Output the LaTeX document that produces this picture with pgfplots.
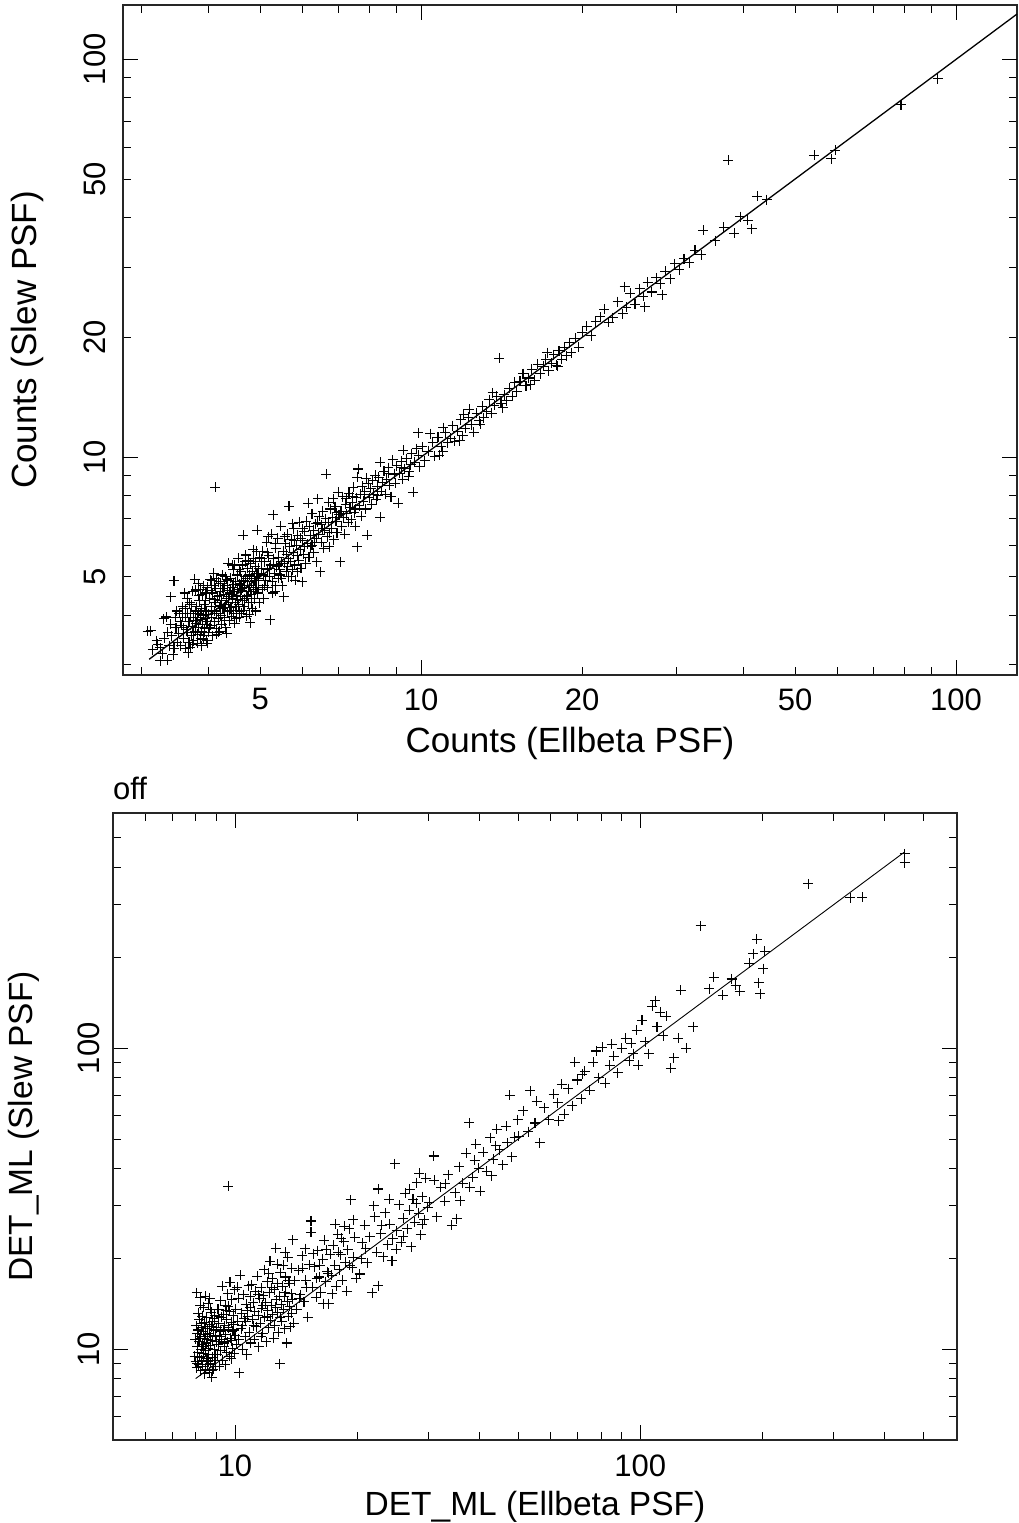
\documentclass[border=0pt]{standalone}
\usepackage{fontspec}
\setmainfont{Liberation Sans}
\usepackage{pgfplots}
\pgfplotsset{compat=1.18}
\newcommand{\tickfont}{\fontsize{31}{37}\selectfont}
\newcommand{\titlefont}{\fontsize{35}{42}\selectfont}
\newcommand{\titlefontb}{\fontsize{33.5}{40}\selectfont}

\begin{document}
\begin{tikzpicture}
\useasboundingbox (0pt,0pt) rectangle (1018pt,-1523pt);

% ---------------- top panel: counts ----------------
\begin{axis}[
  xmode=log, ymode=log,
  scale only axis,
  anchor=north west,
  at={(123pt,-5pt)},
  width=894pt, height=670pt,
  xmin=2.77, xmax=130, ymin=2.83, ymax=137,
  axis line style={black!85, line width=1.2pt},
  tick align=inside,
  every tick/.style={black, line width=0.9pt},
  major tick length=8pt, minor tick length=8pt,
  xtick={5,10,20,50,100}, xticklabels={5,10,20,50,100},
  ytick={5,10,20,50,100}, yticklabels={5,10,20,50,100},
  minor xtick={3,4,6,7,8,9,30,40,60,70,80,90},
  minor ytick={3,4,6,7,8,9,30,40,60,70,80,90},
  extra x ticks={10,100}, extra x tick labels={},
  extra y ticks={10,100}, extra y tick labels={},
  extra tick style={major tick length=15pt},
  tick label style={font=\tickfont},
  xticklabel shift=10pt,
  yticklabel style={rotate=90, anchor=south},
  yticklabel shift=14pt,
  xlabel={Counts (Ellbeta PSF)},
  ylabel={Counts (Slew PSF)},
  xlabel style={font=\titlefont, at={(axis description cs:0.5,-0.1164)}, anchor=base},
  ylabel style={font=\titlefont, at={(axis description cs:-0.0968,0.5)}, rotate=0, anchor=base},
  clip=false,
]
\addplot[only marks, mark=+, mark size=5pt, black, mark options={line width=1.05pt}] table {
3.08 3.65
3.12 3.66
3.15 3.28
3.25 3.07
3.35 3.08
3.25 3.31
3.30 3.92
3.34 3.96
3.40 4.45
3.45 4.88
3.20 3.45
3.28 3.20
3.38 3.35
3.42 3.55
3.45 3.30
3.48 3.72
3.36 3.62
3.22 3.38
3.47 3.95
3.50 3.42
3.44 3.18
3.31 3.50
3.49 4.10
3.40 3.80
3.52 3.60
3.55 3.35
3.55 3.85
3.58 4.20
3.60 3.50
3.60 3.72
3.62 3.95
3.63 3.30
3.65 4.40
3.66 3.62
3.68 3.85
3.70 3.31
3.70 4.05
3.72 3.55
3.73 3.75
3.74 4.60
3.75 3.45
3.76 3.95
3.77 4.93
3.78 3.65
3.79 4.63
3.80 3.82
3.80 4.20
3.81 3.40
3.82 3.58
3.83 4.05
3.84 3.72
3.85 4.35
3.86 3.90
3.87 3.50
3.88 4.15
3.89 3.65
3.90 3.80
3.90 4.50
3.91 4.00
3.92 3.55
3.93 4.25
3.94 3.70
3.95 3.92
3.96 4.10
3.97 3.45
3.98 3.40
3.98 4.70
3.99 3.85
3.62 4.15
3.68 3.42
3.72 4.25
3.76 3.62
3.84 4.48
3.88 3.35
3.93 3.62
3.57 3.78
3.66 4.05
3.78 3.88
3.86 4.65
3.95 4.35
3.53 4.05
3.64 3.68
3.71 3.95
3.82 3.95
3.92 4.75
3.97 3.80
3.58 3.95
3.61 4.55
3.67 3.22
3.69 4.30
3.74 3.38
3.79 4.10
3.83 4.80
3.87 4.02
3.91 3.48
3.96 4.55
4.00 4.02
4.01 3.62
4.02 4.40
4.03 4.91
4.04 3.78
4.05 4.20
4.06 3.95
4.07 4.55
4.08 3.55
4.09 5.10
4.10 4.10
4.11 3.85
4.12 8.39
4.12 4.30
4.13 4.68
4.14 3.70
4.15 4.05
4.16 4.45
4.17 3.92
4.18 4.85
4.19 4.20
4.20 3.65
4.21 4.60
4.22 4.00
4.23 4.35
4.24 3.80
4.25 5.05
4.26 4.15
4.27 4.52
4.28 3.95
4.29 4.75
4.30 4.25
4.31 3.72
4.32 4.40
4.33 3.60
4.34 4.62
4.35 4.08
4.36 5.40
4.37 4.30
4.38 3.88
4.39 4.55
4.40 4.95
4.41 4.18
4.42 3.98
4.43 4.70
4.44 4.40
4.45 5.20
4.46 4.05
4.47 4.58
4.48 3.82
4.49 4.30
4.50 4.85
4.51 4.48
4.52 4.12
4.53 5.05
4.54 4.65
4.55 5.56
4.56 4.25
4.57 3.95
4.58 4.80
4.59 4.45
4.60 5.15
4.61 4.05
4.62 4.62
4.63 4.35
4.64 5.35
4.65 6.36
4.66 4.90
4.67 4.20
4.68 4.70
4.69 5.00
4.70 5.67
4.71 4.45
4.72 3.98
4.73 4.85
4.74 5.25
4.75 4.60
4.76 4.30
4.77 5.05
4.78 4.75
4.79 3.83
4.80 5.40
4.81 4.50
4.82 4.95
4.83 4.15
4.84 5.15
4.85 4.70
4.86 5.55
4.87 4.40
4.88 4.88
4.89 5.30
4.90 4.10
4.91 4.65
4.92 5.08
4.93 5.80
4.94 6.55
4.95 4.55
4.96 4.95
4.97 5.25
4.98 4.30
4.99 5.60
4.05 4.62
4.15 3.58
4.22 4.82
4.28 4.18
4.35 4.88
4.42 4.50
4.48 5.35
4.58 4.10
4.62 4.90
4.68 4.40
4.75 5.50
4.82 4.30
4.88 5.00
4.95 5.10
4.10 4.75
4.20 4.48
4.30 5.00
4.40 4.62
4.50 4.20
4.60 4.75
4.70 4.95
4.80 4.58
4.90 5.45
4.02 3.72
4.06 4.88
4.11 4.38
4.14 4.95
4.18 3.62
4.21 4.22
4.26 4.68
4.29 3.88
4.33 4.92
4.36 4.45
4.39 4.12
4.43 5.35
4.46 4.78
4.51 3.92
4.54 4.38
4.57 5.22
4.63 4.68
4.66 4.12
4.69 5.45
4.73 4.48
4.77 4.02
4.81 4.85
4.85 5.85
4.91 4.88
4.97 4.70
5.02 5.25
5.04 4.65
5.05 5.80
5.07 5.05
5.08 4.40
5.10 5.45
5.12 4.90
5.14 6.10
5.15 5.20
5.17 4.70
5.19 5.65
5.20 5.00
5.22 3.90
5.23 5.35
5.25 6.40
5.27 4.85
5.29 7.15
5.30 5.55
5.32 5.10
5.34 4.60
5.35 5.90
5.37 5.30
5.39 6.25
5.40 4.95
5.42 5.60
5.44 5.20
5.46 6.70
5.48 5.45
5.50 4.75
5.52 5.80
5.53 4.45
5.55 5.40
5.57 6.05
5.59 5.15
5.60 5.70
5.62 6.40
5.64 5.00
5.66 7.53
5.68 5.95
5.70 5.45
5.72 6.20
5.74 5.20
5.76 5.75
5.78 6.60
5.80 5.35
5.82 4.90
5.84 6.00
5.86 5.65
5.88 6.35
5.90 5.50
5.92 6.85
5.94 5.85
5.96 5.25
5.99 4.86
5.03 5.55
5.09 4.75
5.16 5.75
5.21 5.25
5.28 4.55
5.33 6.05
5.41 5.35
5.47 4.95
5.56 6.30
5.63 5.30
5.71 5.00
5.79 6.15
5.87 5.15
6.01 6.15
6.03 5.70
6.05 6.50
6.08 5.40
6.10 6.90
6.12 6.05
6.15 7.66
6.17 5.60
6.20 6.35
6.22 5.95
6.25 7.20
6.28 6.55
6.30 5.75
6.33 6.10
6.35 6.80
6.38 5.45
6.41 7.85
6.44 6.40
6.47 5.14
6.50 6.75
6.52 6.10
6.55 7.30
6.58 5.90
6.60 6.55
6.63 7.00
6.65 9.06
6.68 6.30
6.70 6.85
6.73 5.95
6.76 7.40
6.80 6.60
6.83 7.05
6.86 6.20
6.90 7.50
6.93 6.90
6.96 6.45
7.00 8.15
7.02 7.15
5.18 6.30
5.45 5.05
5.75 6.80
6.00 6.60
6.25 6.00
6.45 7.10
6.72 7.70
5.35 4.75
5.65 5.55
5.95 6.25
6.40 6.85
6.85 7.85
6.04 5.95
6.18 6.70
6.36 6.25
6.54 6.60
6.75 6.45
6.95 7.25
7.06 5.45
7.08 7.30
7.10 6.70
7.13 7.95
7.16 7.05
7.20 6.40
7.23 7.60
7.26 7.20
7.30 6.85
7.33 8.10
7.36 7.45
7.40 6.95
7.43 7.70
7.46 8.40
7.50 7.25
7.53 6.70
7.56 7.90
7.60 8.90
7.60 5.94
7.63 9.33
7.66 7.55
7.70 8.05
7.73 7.10
7.76 8.45
7.80 7.75
7.84 8.20
7.88 7.40
7.93 6.36
7.96 8.60
8.00 7.90
8.04 8.35
8.08 7.60
8.12 8.75
8.16 8.05
8.20 9.00
8.24 7.80
8.28 8.45
8.33 8.90
8.38 9.70
8.38 7.06
8.42 8.20
8.47 8.65
8.52 9.20
8.57 8.05
8.62 8.80
8.67 9.40
8.72 8.50
8.78 7.95
8.85 9.83
8.90 9.05
8.95 8.60
9.00 9.50
9.06 7.65
9.12 9.10
9.18 9.75
9.24 8.80
9.26 10.40
9.32 9.35
9.40 9.90
9.47 8.95
9.55 9.55
9.60 10.20
9.66 8.15
9.72 9.70
9.80 10.50
9.87 11.50
9.93 9.45
7.45 7.95
7.90 8.85
8.30 8.00
8.70 9.10
9.20 9.40
9.50 9.20
9.90 10.10
7.25 7.85
7.55 7.40
7.85 8.05
10.05 10.60
10.15 9.80
10.30 10.35
10.50 10.90
10.60 10.05
10.75 11.20
10.90 10.60
10.98 10.30
11.10 11.50
11.20 10.85
11.35 11.15
11.45 12.00
11.55 10.95
11.70 11.60
11.85 12.40
11.95 11.30
12.10 11.80
12.25 12.60
12.40 12.05
12.55 11.55
12.70 12.90
12.85 12.35
13.00 13.40
13.10 12.55
13.25 13.00
13.40 13.95
13.55 12.90
13.70 13.50
13.85 14.20
14.00 17.70
14.10 13.65
14.30 14.35
14.45 13.85
14.60 14.90
14.80 14.20
14.95 15.40
10.40 11.45
11.00 11.85
11.80 11.00
12.30 13.20
12.90 12.10
13.60 14.50
14.20 13.30
10.80 10.10
12.00 12.80
15.10 14.60
15.30 15.50
15.50 16.20
15.70 15.10
15.90 15.80
16.10 16.60
16.30 15.60
16.50 17.10
16.70 16.20
16.90 16.90
17.10 17.60
17.30 16.50
17.50 17.20
17.70 18.10
17.90 17.00
18.10 18.50
18.30 17.60
18.50 18.90
18.70 18.00
18.90 19.40
19.10 18.30
19.40 19.90
19.70 18.90
20.00 20.60
20.40 21.30
20.80 20.20
21.20 21.90
21.60 22.50
16.00 15.20
17.20 18.30
18.00 16.90
22.00 23.50
22.40 21.80
22.80 22.40
23.30 24.60
23.80 22.90
24.20 23.80
24.60 25.80
25.10 24.20
25.60 26.50
26.00 25.40
26.50 27.50
27.00 26.00
27.50 28.20
28.00 27.30
28.60 29.30
29.20 28.10
29.80 30.60
30.40 29.60
31.00 31.50
31.70 30.80
32.50 33.10
33.40 32.30
24.00 26.80
26.20 23.90
28.20 25.60
33.70 37.20
35.50 35.00
36.80 37.80
37.50 55.70
38.50 36.50
39.50 40.20
40.80 39.40
41.50 37.50
42.50 45.30
44.30 44.40
54.30 57.40
58.40 56.20
59.40 59.00
78.90 76.90
92.40 89.30
};
\addplot[black, line width=1.3pt] coordinates {(3.1,3.1) (130,130)};
\end{axis}

% ---------------- bottom panel: detection likelihood ----------------
\begin{axis}[
  xmode=log, ymode=log,
  scale only axis,
  anchor=north west,
  at={(113pt,-813pt)},
  width=844pt, height=627pt,
  xmin=5, xmax=605, ymin=5, ymax=605,
  axis line style={black!85, line width=1.2pt},
  tick align=inside,
  every tick/.style={black, line width=0.9pt},
  major tick length=15pt, minor tick length=8pt,
  xtick={10,100}, xticklabels={10,100},
  ytick={10,100}, yticklabels={10,100},
  minor xtick={6,7,8,9,20,30,40,50,60,70,80,90,200,300,400,500},
  minor ytick={6,7,8,9,20,30,40,50,60,70,80,90,200,300,400,500},
  tick label style={font=\tickfont},
  xticklabel shift=11pt,
  yticklabel style={rotate=90, anchor=south},
  yticklabel shift=10pt,
  xlabel={DET\_ML (Ellbeta PSF)},
  ylabel={DET\_ML (Slew PSF)},
  xlabel style={font=\titlefontb, at={(axis description cs:0.5,-0.1196)}, anchor=base},
  ylabel style={font=\titlefontb, at={(axis description cs:-0.0948,0.5)}, rotate=0, anchor=base},
  clip=false,
]
\node[anchor=base west, font=\tickfont, inner sep=0pt] at (rel axis cs:0,1) [yshift=14pt] {off};
\addplot[only marks, mark=+, mark size=5pt, black, mark options={line width=1.05pt}] table {
7.95 9.5
7.98 10.8
8.00 9.1
8.02 12.0
8.04 15.4
8.05 8.7
8.06 10.2
8.08 11.3
8.10 9.8
8.12 13.2
8.13 8.9
8.15 10.6
8.16 12.6
8.18 9.4
8.20 14.9
8.21 11.0
8.23 8.5
8.25 10.0
8.26 11.8
8.28 9.2
8.30 12.9
8.31 10.4
8.33 8.8
8.35 11.5
8.36 9.7
8.38 13.8
8.40 10.9
8.42 8.3
8.43 12.3
8.45 9.9
8.47 11.2
8.48 8.6
8.50 10.5
8.52 12.8
8.53 9.3
8.55 11.7
8.57 8.9
8.58 10.1
8.60 14.2
8.62 9.6
8.63 11.3
8.65 8.4
8.67 12.1
8.68 10.3
8.70 9.0
8.72 11.0
8.74 13.3
8.76 8.07
8.78 10.7
8.80 9.4
8.82 12.4
8.84 8.6
8.86 11.6
8.88 10.0
8.90 9.2
8.92 13.0
8.94 11.1
8.96 8.8
8.98 10.6
8.08 9.0
8.18 10.9
8.28 12.2
8.38 9.5
8.48 11.9
8.58 9.1
8.68 13.6
8.78 8.5
8.88 12.7
8.22 14.0
8.44 15.0
8.66 14.8
8.12 11.6
8.34 10.2
8.56 10.8
8.76 11.9
8.94 9.6
9.02 11.8
9.05 9.6
9.08 13.6
9.10 10.4
9.13 12.2
9.15 8.8
9.18 11.0
9.20 14.5
9.23 9.9
9.25 12.8
9.28 10.8
9.30 16.2
9.33 9.2
9.35 11.6
9.38 13.1
9.40 10.2
9.43 12.0
9.45 8.9
9.48 14.0
9.50 11.2
9.53 9.8
9.55 12.6
9.58 10.6
9.60 15.3
9.63 34.8
9.65 11.8
9.68 9.5
9.70 13.4
9.72 16.7
9.75 10.9
9.78 12.3
9.80 9.3
9.83 14.6
9.85 11.5
9.88 10.1
9.90 13.0
9.93 12.1
9.95 9.7
9.98 15.8
10.00 11.1
10.05 13.6
10.10 10.4
10.15 12.4
10.20 14.8
10.25 8.37
10.30 17.6
10.35 11.7
10.40 13.2
10.45 10.0
10.50 15.2
10.55 12.7
10.60 11.0
10.65 14.1
10.70 9.6
10.75 12.9
10.80 16.3
10.85 11.4
10.90 13.8
10.95 10.5
9.12 12.9
9.42 10.5
9.62 13.9
9.92 11.6
10.12 16.1
10.42 12.0
10.72 13.5
10.92 15.0
9.22 11.5
9.52 13.5
9.82 10.7
10.22 10.8
10.62 12.4
11.00 16.4
11.05 12.6
11.10 14.3
11.15 10.8
11.20 13.4
11.25 15.6
11.30 11.9
11.35 17.5
11.40 13.0
11.45 10.2
11.50 14.8
11.55 12.2
11.60 16.0
11.65 13.7
11.70 11.3
11.75 15.1
11.80 18.4
11.85 12.8
11.90 14.3
11.95 10.6
12.00 16.8
12.05 13.5
12.10 11.8
12.15 15.4
12.20 19.6
12.25 12.5
12.30 14.0
12.35 17.2
12.40 13.1
12.45 10.9
12.50 15.8
12.55 12.0
12.60 21.7
12.65 14.6
12.70 16.5
12.75 13.3
12.80 11.4
12.85 15.0
12.90 8.97
12.95 18.0
13.00 14.1
13.05 12.4
13.10 16.2
13.15 19.0
13.20 13.6
13.25 11.7
13.30 15.5
13.35 17.4
13.40 10.5
13.45 14.4
13.50 20.2
13.55 12.9
13.60 16.6
13.65 13.9
13.70 11.9
13.75 15.3
13.80 18.6
13.85 14.7
13.90 23.1
13.95 12.2
11.12 12.0
11.42 15.2
11.72 14.0
12.02 12.9
12.32 16.0
12.62 13.8
12.92 12.8
13.22 15.0
13.52 16.9
13.82 13.2
11.62 11.0
12.12 17.9
12.72 19.2
13.32 21.0
14.05 16.9
14.20 13.6
14.35 18.3
14.50 15.2
14.65 20.5
14.80 14.4
14.95 17.0
15.10 12.8
15.25 19.1
15.40 26.7
15.40 24.5
15.55 16.1
15.70 18.8
15.85 14.9
16.00 21.3
16.15 17.4
16.30 15.5
16.45 19.9
16.60 23.0
16.75 16.8
16.90 18.1
17.05 14.2
17.20 20.7
17.35 17.6
17.50 22.2
17.65 19.0
17.80 16.2
17.95 24.1
18.10 18.4
18.25 20.6
18.40 17.0
18.55 22.8
18.70 19.5
18.85 15.6
19.00 21.4
19.15 25.2
19.30 31.4
19.45 18.7
19.60 20.2
19.75 23.6
19.90 17.2
14.40 14.8
14.90 21.6
15.60 20.8
16.20 19.0
16.80 21.4
17.40 15.3
18.00 21.0
18.60 25.6
19.20 19.0
15.00 16.1
15.90 17.2
17.00 17.9
18.30 23.4
19.60 27.0
14.70 18.6
16.50 14.2
17.70 26.0
20.30 17.8
20.60 22.6
20.90 25.8
21.20 19.4
21.50 23.7
21.80 15.4
22.10 27.6
22.40 21.0
22.60 34.1
22.60 16.3
22.90 24.2
23.20 20.3
23.50 28.4
23.80 22.3
24.10 26.0
24.40 19.7
24.80 41.3
25.10 24.8
25.40 30.2
25.70 22.7
26.00 27.3
26.30 33.0
26.60 25.2
26.90 29.0
27.20 21.9
27.50 31.5
27.80 26.4
28.10 35.8
28.40 28.3
28.70 24.0
29.00 32.2
29.30 27.0
29.60 37.0
29.90 29.7
21.00 21.6
23.00 25.8
25.00 21.5
27.00 34.0
29.00 26.0
22.00 30.0
24.00 31.5
26.00 23.8
28.00 30.6
20.50 20.0
24.50 23.3
28.50 38.5
30.20 30.8
30.90 43.9
31.50 27.6
32.20 34.5
32.90 31.0
33.60 38.0
34.30 25.8
35.00 33.2
35.30 27.2
35.80 40.5
36.50 35.6
37.20 44.8
37.90 56.6
38.60 37.3
39.30 48.0
40.00 40.0
40.30 33.5
41.00 45.2
41.80 39.0
42.60 50.5
43.40 42.8
44.20 53.8
45.00 46.0
45.80 41.0
46.70 55.2
47.70 69.8
48.20 43.6
49.00 50.6
49.80 58.0
33.00 35.5
36.00 31.2
39.00 42.5
43.00 37.8
47.00 48.5
31.00 36.5
38.00 34.6
44.00 47.5
50.10 51.0
51.50 62.0
52.90 52.9
53.50 72.2
55.00 56.5
56.50 48.5
58.00 63.5
59.50 58.0
61.10 70.4
62.50 66.0
64.10 76.0
65.00 60.5
66.50 73.5
68.00 64.5
70.00 78.5
71.50 68.0
73.00 84.0
75.00 72.5
76.50 90.0
78.00 98.0
79.00 80.0
80.50 101.0
82.00 76.5
84.00 88.0
86.00 94.0
88.00 83.0
90.00 100.0
92.00 108.0
94.00 91.0
96.00 96.0
98.00 115.0
99.00 88.0
55.50 66.8
63.00 57.5
72.00 82.0
85.00 103.0
95.00 104.0
69.00 90.0
101.0 124.0
103.0 105.0
105.0 96.0
107.0 138.0
109.0 144.0
110.0 118.0
112.0 132.0
114.0 110.0
116.0 128.0
119.0 86.0
121.0 93.0
124.0 108.0
126.0 156.0
130.0 100.0
135.0 118.0
141.0 255.0
148.0 158.0
152.0 172.0
160.0 150.0
168.0 170.0
172.0 162.0
176.0 155.0
186.0 192.0
190.0 206.0
194.0 230.0
196.0 165.0
198.0 152.0
201.0 184.0
203.0 210.0
260.0 352.0
330.0 316.0
353.0 318.0
449.0 443.0
449.0 413.0
};
\addplot[black, line width=0.9pt] coordinates {(8,8) (449,449)};
\end{axis}
\end{tikzpicture}
\end{document}
